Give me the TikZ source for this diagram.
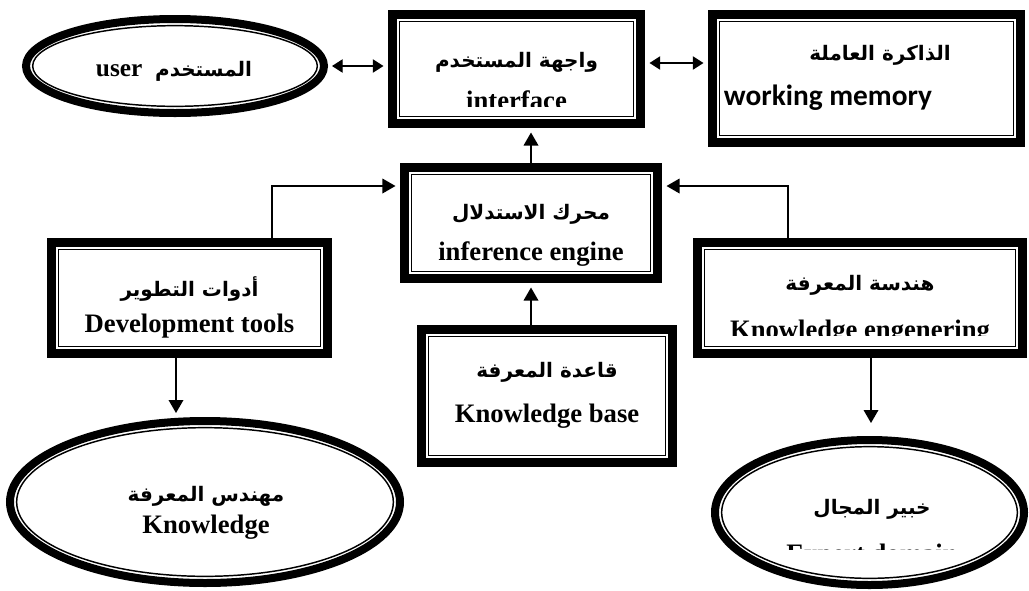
\documentclass[tikz,border=0pt]{standalone}
\usepackage{fontspec}
\setmainfont{Liberation Serif}[BoldFont={Liberation Serif Bold}]
\newfontfamily\arabicfont[Script=Arabic]{DejaVu Sans}
\newfontfamily\calib{Carlito}
\TeXXeTstate=1
\usetikzlibrary{arrows.meta,shapes.geometric,calc}
\tikzset{
 boxnode/.style={rectangle, draw, line width=6.75pt, inner sep=0pt, fill=white,
   path picture={\draw[line width=1.1pt] ([shift={(5.4pt,5.4pt)}]path picture bounding box.south west) rectangle ([shift={(-5.4pt,-5.4pt)}]path picture bounding box.north east);}},
 ellnode/.style={ellipse, draw, line width=6pt, inner sep=0pt, fill=white,
   path picture={\draw[line width=1.1pt] let \p1=(path picture bounding box.north east), \p2=(path picture bounding box.center) in (\p2) ellipse [x radius=\x1-\x2-5pt, y radius=\y1-\y2-5pt];}},
 en/.style={font=\bfseries\fontsize{20pt}{24pt}\selectfont, inner sep=0pt, anchor=base},
 ar/.style={font=\arabicfont\bfseries\fontsize{15pt}{18pt}\selectfont, inner sep=0pt},
 conn/.style={line width=1pt},
 tip/.style={-{Triangle[length=9.75pt,width=11pt]}},
 dbltip/.style={{Triangle[length=8pt,width=10pt]}-{Triangle[length=8pt,width=10pt]}},
}
\begin{document}
\begin{tikzpicture}[x=0.75pt,y=-0.75pt]
\useasboundingbox (0,0) rectangle (1029,590);
% boxes
\node[boxnode, minimum width=186pt, minimum height=81.75pt] (iface) at (516.5,69) {};
\node[boxnode, minimum width=231pt, minimum height=96pt] (wm) at (866.5,78.5) {};
\node[boxnode, minimum width=189.75pt, minimum height=83.25pt] (inf) at (531,223) {};
\node[boxnode, minimum width=207pt, minimum height=83.25pt] (dev) at (189.5,298) {};
\node[boxnode, minimum width=243.75pt, minimum height=83.25pt] (ke) at (860,298) {};
\node[boxnode, minimum width=188.25pt, minimum height=99.75pt] (kb) at (547,396) {};
% ellipses
\node[ellnode, minimum width=223.5pt, minimum height=70.5pt] (user) at (175,66) {};
\node[ellnode, minimum width=292.5pt, minimum height=121.5pt] (keng) at (205,502) {};
\node[ellnode, minimum width=231.75pt, minimum height=108.75pt] (expert) at (869.5,512.5) {};
% texts
\node[inner sep=0pt, anchor=base] (tuser) at (174,76) {\bfseries\fontsize{19pt}{22pt}\selectfont user~~{\arabicfont\fontsize{15pt}{18pt}\selectfont\beginR المستخدم\endR}};
\node[ar] (aiface) at (516.5,62) {\beginR واجهة المستخدم\endR};
\begin{scope}
\clip (400,20) rectangle (635,106);
\node[en] (tiface) at (516.5,109) {interface};
\end{scope}
\node[ar] (awm) at (880,55) {\beginR الذاكرة العاملة\endR};
\node[inner sep=0pt, anchor=base, font=\calib\bfseries\fontsize{22pt}{26pt}\selectfont] (twm) at (828,105) {working memory};
\node[ar] (ainf) at (531,214) {\beginR محرك الاستدلال\endR};
\node[en] (tinf) at (531,260) {inference engine};
\node[ar] (adev) at (189.5,289) {\beginR أدوات التطوير\endR};
\node[en] (tdev) at (189.5,332) {Development tools};
\node[ar] (ake) at (860,285) {\beginR هندسة المعرفة\endR};
\begin{scope}
\clip (705,250) rectangle (1015,335);
\node[en] (tke) at (860,338) {Knowledge engenering};
\end{scope}
\node[ar] (akb) at (547,372) {\beginR قاعدة المعرفة\endR};
\node[en] (tkb) at (547,422) {Knowledge base};
\node[ar] (akeng) at (206,496) {\beginR مهندس المعرفة\endR};
\node[en] (tkeng) at (206,533) {Knowledge};
\node[ar] (aexp) at (872,509) {\beginR خبير المجال\endR};
\begin{scope}
\clip (720,530) rectangle (1020,549);
\node[en] (texp) at (872,562) {Expert domain};
\end{scope}
% connectors
\coordinate (jl) at (272,186);
\coordinate (jr) at (788,186);
\coordinate (dl) at (176,0);
\coordinate (ex) at (871,423);
\draw[conn, dbltip, shorten <=3pt, shorten >=3.4pt] (user.east) -- (user.east -| iface.west);
\draw[conn, dbltip, shorten <=3.4pt, shorten >=3.4pt] ([yshift=4.5pt]iface.east) -- ([yshift=4.5pt]iface.east -| wm.west);
\draw[conn, tip, shorten >=3.4pt] (inf.north) -- (inf.north |- iface.south);
\draw[conn, tip, shorten >=3.4pt] (inf.south |- kb.north) -- (inf.south);
\draw[conn, tip, shorten >=3.4pt] (jl |- dev.north) -- (jl) -- (jl -| inf.west);
\draw[conn, tip, shorten >=3.4pt] (jr |- ke.north) -- (jr) -- (jr -| inf.east);
\draw[conn, tip, shorten >=3pt] (dl |- dev.south) -- (dl |- keng.north);
\draw[conn, tip] (ex |- ke.south) -- (ex);
\end{tikzpicture}
\end{document}
